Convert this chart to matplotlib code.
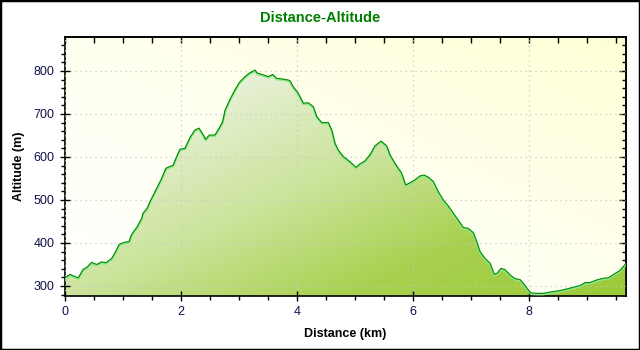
import numpy as np
import matplotlib
matplotlib.use("Agg")
import matplotlib.pyplot as plt
from matplotlib.colors import LinearSegmentedColormap
from matplotlib.ticker import MultipleLocator
from matplotlib.patches import Rectangle
import matplotlib.transforms as mtransforms

title = "Distance-Altitude"
xlabel = "Distance (km)"
ylabel = "Altitude (m)"

distance_km = [0.000, 0.086, 0.172, 0.229, 0.316, 0.374, 0.460, 0.547, 0.633, 0.707,
               0.805, 0.862, 0.936, 1.034, 1.103, 1.150, 1.247, 1.322, 1.350, 1.419,
               1.466, 1.581, 1.667, 1.741, 1.867, 1.914, 1.983, 2.069, 2.155, 2.241,
               2.310, 2.367, 2.426, 2.488, 2.586, 2.672, 2.719, 2.759, 2.845, 2.931,
               3.005, 3.091, 3.178, 3.276, 3.316, 3.419, 3.505, 3.581, 3.650, 3.764,
               3.850, 3.879, 3.936, 4.022, 4.109, 4.195, 4.281, 4.340, 4.426, 4.540,
               4.598, 4.655, 4.712, 4.798, 4.914, 5.017, 5.086, 5.172, 5.259, 5.345,
               5.448, 5.547, 5.603, 5.690, 5.805, 5.874, 5.948, 6.034, 6.121, 6.190,
               6.264, 6.350, 6.436, 6.522, 6.609, 6.695, 6.781, 6.867, 6.953, 7.040,
               7.109, 7.155, 7.241, 7.328, 7.402, 7.453, 7.517, 7.586, 7.672, 7.759,
               7.845, 7.902, 7.988, 8.029, 8.132, 8.247, 8.362, 8.478, 8.591, 8.707,
               8.793, 8.879, 8.966, 9.052, 9.167, 9.281, 9.367, 9.483, 9.569, 9.638,
               9.672]
altitude_m = [319, 327, 322, 319, 339, 343, 355, 350, 356, 354,
              364, 377, 397, 402, 403, 420, 438, 457, 470, 481,
              496, 527, 550, 574, 581, 597, 618, 620, 645, 663,
              667, 655, 641, 651, 651, 670, 682, 708, 734, 756,
              773, 785, 795, 802, 795, 791, 787, 792, 783, 781,
              779, 777, 763, 748, 725, 726, 717, 694, 680, 680,
              663, 632, 616, 601, 589, 576, 584, 591, 605, 626,
              637, 626, 605, 585, 562, 535, 540, 547, 556, 558,
              553, 543, 519, 500, 486, 469, 453, 436, 434, 424,
              399, 380, 364, 353, 327, 330, 341, 338, 326, 317,
              315, 306, 291, 284, 283, 283, 286, 288, 291, 295,
              298, 301, 308, 308, 314, 318, 319, 329, 336, 347,
              352]

x_ticks = [0, 2, 4, 6, 8]
y_ticks = [300, 400, 500, 600, 700, 800]

x = np.array(distance_km)
y = np.array(altitude_m)

fig = plt.figure(figsize=(6.4, 3.5), dpi=100)
fig.patch.set_facecolor("white")
ax = fig.add_axes([65/640, 54/350, 561/640, 259/350])
xmin, xmax = 0, x[-1]
ymin, ymax = 276.7, 879
ax.set_xlim(xmin, xmax)
ax.set_ylim(ymin, ymax)

# background gradient (white bottom-left -> light yellow top-right)
n = 200
gx, gy = np.meshgrid(np.linspace(0, 1, n), np.linspace(0, 1, n))
tb = (gx + gy) / 2
bg_cmap = LinearSegmentedColormap.from_list("bg", ["#ffffff", "#fffff0", "#ffffd6"])
ax.imshow(tb, extent=[xmin, xmax, ymin, ymax], origin="lower", cmap=bg_cmap,
          aspect="auto", zorder=0, vmin=0, vmax=1)

# grid
ax.grid(True, which="major", linestyle=(0, (1, 3)), color="#c8c8c8", linewidth=0.9, zorder=1)
ax.set_axisbelow(False)

# fill gradient
tf = (gx + (1 - gy)) / 2
fill_cmap = LinearSegmentedColormap.from_list("fill", ["#f8faf4", "#e6f0d4", "#cce49c", "#a9d150", "#9acb38"])
poly = ax.fill_between(x, y, ymin, facecolor="none", edgecolor="none")
im = ax.imshow(tf, extent=[xmin, xmax, ymin, ymax], origin="lower", cmap=fill_cmap,
               aspect="auto", zorder=2, vmin=0, vmax=1)
path = poly.get_paths()[0]
im.set_clip_path(path, transform=ax.transData)

off = mtransforms.offset_copy(ax.transData, fig=fig, x=0, y=-1.0, units="dots")
ax.plot(x, y, color="#8fe88f", linewidth=1.6, transform=off, zorder=3)
ax.plot(x, y, color="#008a00", linewidth=0.8, zorder=4)

# ticks
ax.xaxis.set_minor_locator(MultipleLocator(0.5))
ax.yaxis.set_minor_locator(MultipleLocator(20))
ax.set_xticks(x_ticks)
ax.set_yticks(y_ticks)
ax.set_xticklabels([str(v) for v in x_ticks])
ax.set_yticklabels([str(v) for v in y_ticks])
ax.tick_params(which="major", direction="inout", length=7, width=1.0, color="black",
               labelsize=9, labelcolor="#10104a", pad=4)
ax.tick_params(which="minor", direction="out", length=3, width=1.0, color="black")
for lab in ax.get_xticklabels() + ax.get_yticklabels():
    lab.set_family("Liberation Sans")

secx = ax.secondary_xaxis("top")
secx.xaxis.set_major_locator(MultipleLocator(0.5))
secx.tick_params(direction="in", length=4, width=1.0, labeltop=False)
secx.xaxis.set_minor_locator(plt.NullLocator())
secy = ax.secondary_yaxis("right")
secy.yaxis.set_major_locator(MultipleLocator(100))
secy.yaxis.set_minor_locator(MultipleLocator(20))
secy.tick_params(which="major", direction="in", length=5, width=1.0, labelright=False)
secy.tick_params(which="minor", direction="in", length=3, width=1.0)

for s in ax.spines.values():
    s.set_linewidth(1.2)
    s.set_color("black")
for s in list(secx.spines.values()) + list(secy.spines.values()):
    s.set_linewidth(1.2)

ax.set_xlabel(xlabel, fontsize=9, fontweight="bold", family="Liberation Sans", labelpad=7)
ax.set_ylabel(ylabel, fontsize=9, fontweight="bold", family="Liberation Sans", labelpad=6)
fig.text(0.5, 1 - 18/350, title, ha="center", va="center", fontsize=10.5,
         fontweight="bold", color="#008000", family="Liberation Sans")

fig.patches.append(Rectangle((0, 0), 1, 1, transform=fig.transFigure, fill=False,
                             edgecolor="black", linewidth=2.5, zorder=10))

fig.savefig("out.png", dpi=100)
